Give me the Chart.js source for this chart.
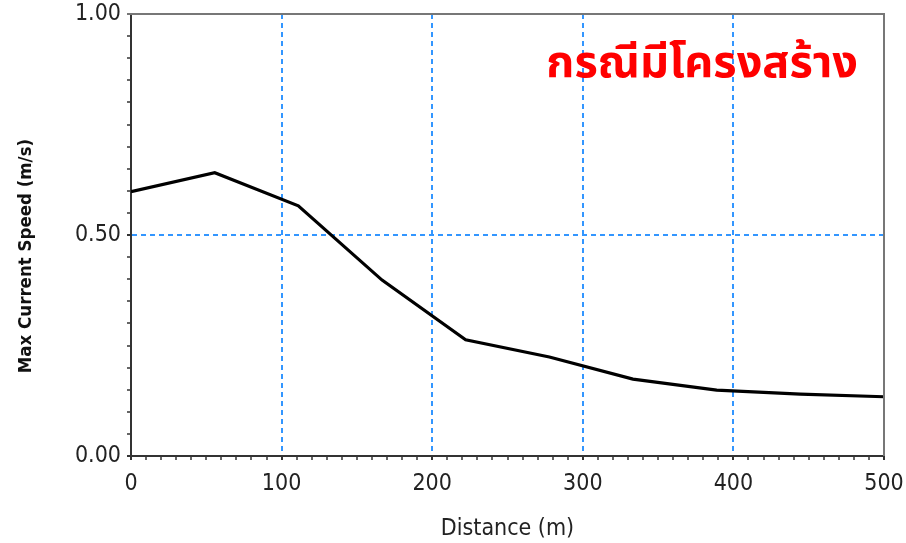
<!DOCTYPE html>
<html>
<head>
<meta charset="utf-8">
<script src="https://cdn.jsdelivr.net/npm/chart.js@4.4.1/dist/chart.umd.min.js"></script>
<style>
    html, body { margin: 0; padding: 0; background: #fff; }
    #wrap { width: 906px; height: 543px; position: relative; }
</style>
</head>
<body>
<div id="wrap"><canvas id="myChart"></canvas></div>
<script>
// distance along the profile (m) and max current speed (m/s)
const distance = [0, 55.6, 111.1, 166.7, 222.2, 277.8, 333.3, 388.9, 444.4, 500]
const speed = [0.598, 0.641, 0.566, 0.398, 0.263, 0.224, 0.174, 0.149, 0.140, 0.134]

const x_ticks_major = [0, 100, 200, 300, 400, 500]
const y_ticks_major = [0, 0.5, 1]

const case_label = 'กรณีมีโครงสร้าง'
const x_title = 'Distance (m)'
const y_title = 'Max Current Speed (m/s)'

const grid_color = '#3396ff'
const tick_font = { family: '"DejaVu Sans Condensed", "DejaVu Sans", sans-serif', size: 23 }

function is_major(value, majors) {
    return majors.some(m => Math.abs(m - value) < 1e-6)
}

// frame on top/right, y title, red case label
const frame_plugin = {
    id: 'frame',
    afterDraw(chart) {
        const ctx = chart.ctx
        const a = chart.chartArea
        ctx.save()
        ctx.strokeStyle = '#777'
        ctx.lineWidth = 2
        ctx.beginPath()
        ctx.moveTo(a.left - 4, a.top)
        ctx.lineTo(a.right, a.top)
        ctx.lineTo(a.right, a.bottom)
        ctx.stroke()

        ctx.save()
        ctx.translate(26, 256)
        ctx.rotate(-Math.PI / 2)
        ctx.fillStyle = '#111'
        ctx.font = 'bold 18.5px "DejaVu Sans Condensed", "DejaVu Sans", sans-serif'
        ctx.textAlign = 'center'
        ctx.textBaseline = 'middle'
        ctx.fillText(y_title, 0, 0)
        ctx.restore()

        ctx.fillStyle = '#ff0000'
        ctx.font = 'bold 45px "Noto Sans Thai", "Noto Sans", "DejaVu Sans", sans-serif'
        ctx.textAlign = 'right'
        ctx.textBaseline = 'alphabetic'
        ctx.fillText(case_label, 858, 77)
        ctx.restore()
    }
}

let points = distance.map((d, i) => ({ x: d, y: speed[i] }))

let myChart = new Chart(document.getElementById('myChart'),
    {
        type: 'line',
        data: {
            datasets: [{
                label: 'Max Current Speed',
                data: points,
                borderColor: '#000',
                borderWidth: 3.2,
                fill: false,
                tension: 0,
                pointRadius: 0
            }]
        },
        options: {
            responsive: true,
            maintainAspectRatio: false,
            animation: false,
            layout: { padding: { top: 14, right: 22, bottom: 0, left: 0 } },
            plugins: { legend: { display: false }, tooltip: { enabled: false } },
            scales: {
                x: {
                    type: 'linear',
                    min: 0,
                    max: 500,
                    afterFit: s => {
                        s.height = 87
                        s.paddingLeft = 0
                        s.paddingRight = 0
                    },
                    ticks: {
                        stepSize: 10,
                        autoSkip: false,
                        maxRotation: 0,
                        padding: 10,
                        color: '#222',
                        font: tick_font,
                        callback: v => is_major(v, x_ticks_major) ? String(v) : ''
                    },
                    grid: {
                        color: c => (c.tick && c.tick.value > 0 && c.tick.value < 500 && c.tick.value % 100 == 0) ? grid_color : 'transparent',
                        lineWidth: 2,
                        tickLength: 4,
                        tickColor: '#333',
                        tickWidth: c => (c.tick && is_major(c.tick.value, x_ticks_major)) ? 2 : 1.5
                    },
                    border: { display: true, color: '#333', width: 2, dash: [5, 4] },
                    title: {
                        display: true,
                        text: x_title,
                        color: '#222',
                        font: tick_font,
                        padding: { top: 0, bottom: 0 }
                    }
                },
                y: {
                    min: 0,
                    max: 1,
                    afterFit: s => {
                        s.width = 131
                        s.paddingTop = 0
                        s.paddingBottom = 0
                    },
                    ticks: {
                        stepSize: 0.05,
                        autoSkip: false,
                        padding: 6,
                        color: '#222',
                        font: tick_font,
                        callback: v => is_major(v, y_ticks_major) ? v.toFixed(2) : ''
                    },
                    grid: {
                        color: c => (c.tick && Math.abs(c.tick.value - 0.5) < 1e-6) ? grid_color : 'transparent',
                        lineWidth: 2,
                        tickLength: 4,
                        tickColor: '#333',
                        tickWidth: c => (c.tick && is_major(c.tick.value, y_ticks_major)) ? 2 : 1.5
                    },
                    border: { display: true, color: '#333', width: 2, dash: [5, 4] },
                    title: { display: false }
                }
            }
        },
        plugins: [frame_plugin]
    });
</script>
</body>
</html>
